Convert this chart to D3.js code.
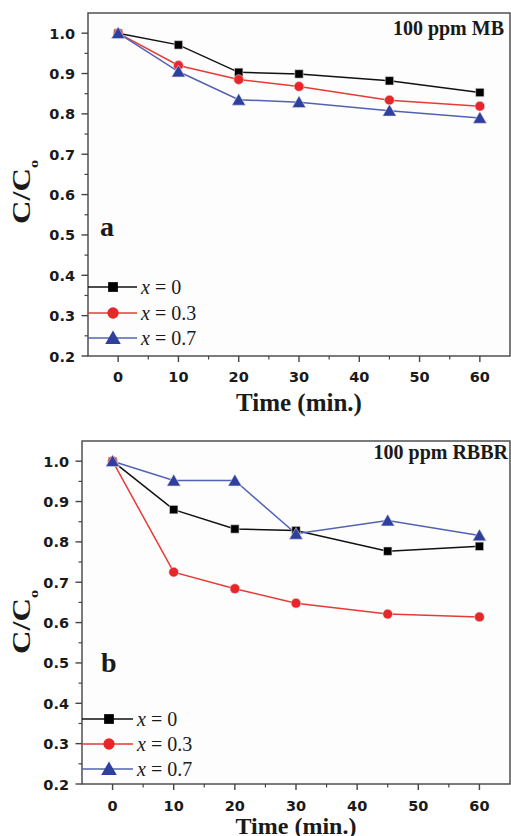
<!DOCTYPE html>
<html lang="en">
<head>
    <meta charset="UTF-8">
    <title>C/Co vs time</title>
    <script src="https://d3js.org/d3.v7.min.js"></script>
    <style>
        body {
            margin: 0;
            padding: 0;
            background: #fff;
        }
        .tick-label {
            font-family: "DejaVu Sans", Arial, sans-serif;
            font-weight: bold;
            font-size: 14.5px;
            fill: #1a1a1a;
        }
        .serif {
            font-family: "Liberation Serif", "Times New Roman", serif;
        }
    </style>
</head>
<body>
    <script>
        // shared x positions (minutes)
        const times = [0, 10, 20, 30, 45, 60];
        const xTicks = [0, 10, 20, 30, 40, 50, 60];
        const yTicks = [0.2, 0.3, 0.4, 0.5, 0.6, 0.7, 0.8, 0.9, 1.0];
        const legendLabels = ["0", "0.3", "0.7"];

        // panel a : 100 ppm MB
        const mbX0 = [1.0, 0.971, 0.903, 0.899, 0.882, 0.853];
        const mbX03 = [1.0, 0.920, 0.885, 0.868, 0.834, 0.819];
        const mbX07 = [1.0, 0.905, 0.835, 0.829, 0.808, 0.790];

        // panel b : 100 ppm RBBR
        const rbX0 = [1.0, 0.880, 0.832, 0.828, 0.777, 0.789];
        const rbX03 = [1.0, 0.725, 0.684, 0.648, 0.621, 0.614];
        const rbX07 = [1.0, 0.952, 0.952, 0.820, 0.853, 0.816];

        const colors = ["#000000", "#e8262a", "#2e3f9f"];
        const lineColors = ["#111111", "#e63a36", "#5262b2"];
        const shapes = [d3.symbolSquare, d3.symbolCircle, d3.symbolTriangle];
        const shapeSizes = [70, 75, 80];

        const W = 511, H = 836;
        const svg = d3.select("body").append("svg")
            .attr("width", W)
            .attr("height", H);

        function drawPanel(p) {
            const x = d3.scaleLinear().domain([-5, 65]).range([p.left, p.right]);
            const y = d3.scaleLinear().domain([0.2, 1.05]).range([p.bottom, p.top]);
            const g = svg.append("g");

            // frame
            g.append("rect")
                .attr("x", p.left).attr("y", p.top)
                .attr("width", p.right - p.left).attr("height", p.bottom - p.top)
                .attr("fill", "#fdfdfd")
                .attr("stroke", "#444")
                .attr("stroke-width", 1.4);

            // x axis ticks
            const xMinor = d3.range(-5, 66, 5).filter(v => v % 10 !== 0 && v > -5 && v < 65);
            g.selectAll(".xmaj").data(xTicks).enter().append("line")
                .attr("x1", d => x(d)).attr("x2", d => x(d))
                .attr("y1", p.bottom).attr("y2", p.bottom + 6)
                .attr("stroke", "#444").attr("stroke-width", 1.4);
            g.selectAll(".xmin").data(xMinor).enter().append("line")
                .attr("x1", d => x(d)).attr("x2", d => x(d))
                .attr("y1", p.bottom).attr("y2", p.bottom + 3.5)
                .attr("stroke", "#444").attr("stroke-width", 1.2);
            g.selectAll(".xlab").data(xTicks).enter().append("text")
                .attr("class", "tick-label")
                .attr("x", d => x(d))
                .attr("y", p.bottom + p.xLabOff)
                .attr("text-anchor", "middle")
                .text(d => d);

            // y axis ticks
            const yMinor = d3.range(0.25, 1.05, 0.1);
            g.selectAll(".ymaj").data(yTicks).enter().append("line")
                .attr("x1", p.left - 6.5).attr("x2", p.left)
                .attr("y1", d => y(d)).attr("y2", d => y(d))
                .attr("stroke", "#444").attr("stroke-width", 1.4);
            g.selectAll(".ymin").data(yMinor).enter().append("line")
                .attr("x1", p.left - 3.5).attr("x2", p.left)
                .attr("y1", d => y(d)).attr("y2", d => y(d))
                .attr("stroke", "#444").attr("stroke-width", 1.2);
            g.selectAll(".ylab").data(yTicks).enter().append("text")
                .attr("class", "tick-label")
                .attr("x", p.left - 13)
                .attr("y", d => y(d) + 5.5)
                .attr("text-anchor", "end")
                .text(d => d.toFixed(1));

            // axis titles
            g.append("text")
                .attr("class", "serif")
                .attr("x", (x(0) + x(60)) / 2)
                .attr("y", p.bottom + p.xTitleOff)
                .attr("text-anchor", "middle")
                .attr("font-size", p.xTitleSize)
                .attr("font-weight", "bold")
                .attr("fill", "#1a1a1a")
                .text("Time (min.)");

            const yl = g.append("text")
                .attr("class", "serif")
                .attr("transform", `translate(${p.yTitleX},${p.yTitleY}) rotate(-90) scale(1.25,1)`)
                .attr("text-anchor", "middle")
                .attr("font-size", 26)
                .attr("font-weight", "bold")
                .attr("fill", "#1a1a1a");
            yl.append("tspan").text("C/C");
            yl.append("tspan").attr("dy", 8).attr("font-size", 13).text("o");

            // series
            const line = d3.line().x(d => x(d[0])).y(d => y(d[1]));
            p.series.forEach((vals, i) => {
                const pts = times.map((t, k) => [t, vals[k]]);
                g.append("path")
                    .datum(pts)
                    .attr("d", line)
                    .attr("fill", "none")
                    .attr("stroke", lineColors[i])
                    .attr("stroke-width", 1.5);
            });
            p.series.forEach((vals, i) => {
                const pts = times.map((t, k) => [t, vals[k]]);
                g.selectAll(null).data(pts).enter().append("path")
                    .attr("transform", d => `translate(${x(d[0])},${y(d[1]) + (i === 2 ? 1.5 : 0)})`)
                    .attr("d", d3.symbol().type(shapes[i]).size(shapeSizes[i]))
                    .attr("fill", colors[i])
                    .attr("stroke", "#ddd")
                    .attr("stroke-width", 0.6);
            });

            // legend
            legendLabels.forEach((lab, i) => {
                const ly = p.legendY[i];
                g.append("line")
                    .attr("x1", p.left).attr("x2", p.legendX + 24)
                    .attr("y1", ly).attr("y2", ly)
                    .attr("stroke", lineColors[i]).attr("stroke-width", 1.5);
                g.append("path")
                    .attr("transform", `translate(${p.legendX},${ly + (i === 2 ? 1.5 : 0)})`)
                    .attr("d", d3.symbol().type(shapes[i]).size(shapeSizes[i] + 25))
                    .attr("fill", colors[i]);
                const t = g.append("text")
                    .attr("class", "serif")
                    .attr("x", p.legendX + 28)
                    .attr("y", ly + 7)
                    .attr("font-size", 20)
                    .attr("fill", "#1a1a1a");
                t.append("tspan").attr("font-style", "italic").text("x");
                t.append("tspan").text(" = " + lab);
            });

            // panel letter and dye label
            g.append("text")
                .attr("class", "serif")
                .attr("x", p.letterX).attr("y", p.letterY)
                .attr("font-size", 28)
                .attr("font-weight", "bold")
                .attr("fill", "#1a1a1a")
                .text(p.letter);
            g.append("text")
                .attr("class", "serif")
                .attr("x", p.titleX).attr("y", p.top + p.titleOff)
                .attr("text-anchor", "end")
                .attr("font-size", 20)
                .attr("font-weight", "bold")
                .attr("fill", "#1a1a1a")
                .text(p.title);
        }

        drawPanel({
            left: 88, right: 510, top: 13, bottom: 356,
            series: [mbX0, mbX03, mbX07],
            xLabOff: 26, xTitleOff: 55, xTitleSize: 25,
            legendX: 113, legendY: [287, 313, 338],
            letter: "a", letterX: 100, letterY: 236,
            title: "100 ppm MB", titleX: 504, titleOff: 22,
            yTitleX: 30, yTitleY: 192
        });

        drawPanel({
            left: 82, right: 510, top: 441, bottom: 784,
            series: [rbX0, rbX03, rbX07],
            xLabOff: 27, xTitleOff: 49.5, xTitleSize: 24,
            legendX: 109, legendY: [719, 744, 769],
            letter: "b", letterX: 101, letterY: 672,
            title: "100 ppm RBBR", titleX: 508, titleOff: 18,
            yTitleX: 30, yTitleY: 622
        });
    </script>
</body>
</html>
